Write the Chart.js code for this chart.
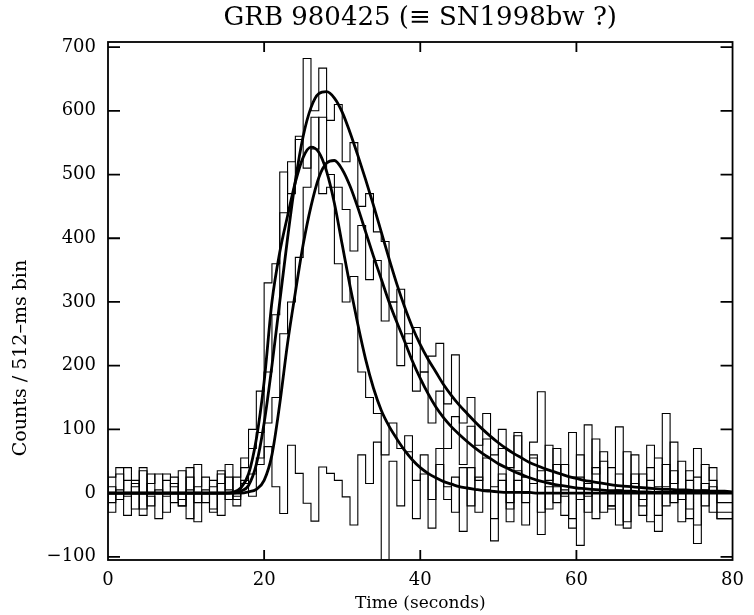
<!DOCTYPE html>
<html><head><meta charset="utf-8">
<script src="https://cdn.jsdelivr.net/npm/chart.js@4/dist/chart.umd.min.js"></script>
<style>html,body{margin:0;padding:0;background:#fff}#wrap{width:754px;height:615px;position:relative}</style>
</head><body><div id="wrap"><canvas id="c"></canvas></div>
<script>
const chartTitle = 'GRB 980425 (\u2261 SN1998bw ?)';
const xAxisTitle = 'Time (seconds)';
const yAxisTitle = 'Counts / 512\u2013ms bin';
const xTickValues = [0, 20, 40, 60, 80];
const yTickValues = [-100, 0, 100, 200, 300, 400, 500, 600, 700];
// bin edges in seconds (0 .. 80)
const binEdges = Array.from({length: 81}, (_, i) => i);

// observed counts per bin (4 light curves)
const countsA = [35,10,-10,40,20,-25,15,30,-5,25,-20,5,45,-15,10,30,-10,
  25,55,100,160,330,360,504,470,560,510,590,470,480,360,300,340,190,150,125,60,110,70,90,
  20,60,-10,45,10,-30,40,-20,25,5,-40,30,-15,20,-50,15,35,-25,10,-5,-55,25,-30,40,0,-20,30,-45,15,-10,20,-35,45,-15,5,-40,25,-20,10,-30];
const countsB = [-20,25,40,-5,15,-35,30,0,20,-15,35,-40,10,25,-30,15,45,-10,
  40,70,95,190,280,440,520,555,682,600,667,585,610,520,550,450,470,410,395,300,320,235,260,190,215,235,140,217,110,150,75,125,60,100,40,95,25,80,159,20,70,5,95,-10,107,30,65,-20,104,0,60,-35,75,10,125,15,50,-25,70,5,40,-15];
const countsC = [10,-30,5,20,-25,35,-5,-40,30,10,-20,40,-15,5,20,-35,25,-5,15,
  30,55,110,150,250,300,370,480,540,590,500,480,445,380,420,335,365,270,300,200,250,160,190,110,160,70,120,45,105,20,85,10,70,-25,90,0,55,-30,75,-15,45,-40,60,-5,85,-30,40,-50,65,0,30,-45,55,-20,80,-10,35,-50,45,20,-40];
const countsD = [20,-15,30,-35,10,40,-20,5,-30,15,-10,25,-45,0,-25,35,5,-20,20,-5,
  45,73,10,-32,75,31,-16,-44,41,31,20,-6,-50,60,15,80,-105,50,-20,65,-40,30,-55,70,-10,25,-60,40,-30,55,-75,20,-45,35,-15,60,-65,10,45,-35,25,-82,15,-40,50,-25,5,-55,30,-20,40,-60,10,35,-45,20,-79,15,-30,-40];

// fitted pulse profiles, sampled at the bin edges
const fitA = [0,0,0,0,0,0,0,0,0,0,0,0,0,0,0,0,
  1,8,30,85,175,300,378,435,488,527,543,535,505,455,390,325,265,210,165,130,105,85,67,52,40,31,24,18,14,10,8,6,4,3,2,1,1,1,1,
  0,0,0,0,0,0,0,0,0,0,0,0,0,0,0,0,0,0,0,0,0,0,0,0,0,0];
const fitB = [0,0,0,0,0,0,0,0,0,0,0,0,0,0,0,0,0,
  3,12,45,110,200,300,400,490,560,605,627,630,620,598,566,530,492,452,410,368,328,292,260,233,210,190,170,153,138,125,112,100,89,79,70,62,55,48,43,38,34,30,26,23,20,18,16,14,12,11,10,9,8,7,6,6,5,5,4,4,3,3,3,2];
const fitC = [0,0,0,0,0,0,0,0,0,0,0,0,0,0,0,0,0,0,
  2,6,20,60,140,235,315,390,450,495,518,522,508,482,448,410,372,336,300,268,238,207,180,156,135,118,104,92,81,71,62,54,46,40,34,29,24,20,17,14,12,10,8,7,6,5,4,4,3,3,2,2,
  1,1,1,1,1,1,1,1,1,1,1];

const histo = vals => binEdges.map((x, i) => ({x, y: vals[Math.min(i, vals.length - 1)]}));
const curve = vals => binEdges.map((x, i) => ({x, y: vals[i]}));

const serif = 'DejaVu Serif';

const frameTicks = {
  id: 'frameTicks',
  afterDatasetsDraw(chart) {
    const {ctx, chartArea: a, scales: {x, y}} = chart;
    ctx.save();
    ctx.strokeStyle = '#000';
    ctx.lineWidth = 1.8;
    ctx.strokeRect(a.left, a.top, a.right - a.left, a.bottom - a.top);
    ctx.beginPath();
    x.ticks.forEach(t => {
      const px = x.getPixelForValue(t.value);
      if (px <= a.left + 1 || px >= a.right - 1) return;
      ctx.moveTo(px, a.bottom); ctx.lineTo(px, a.bottom - 10);
      ctx.moveTo(px, a.top); ctx.lineTo(px, a.top + 10);
    });
    y.ticks.forEach(t => {
      const py = y.getPixelForValue(t.value);
      ctx.moveTo(a.left, py); ctx.lineTo(a.left + 12, py);
      ctx.moveTo(a.right, py); ctx.lineTo(a.right - 12, py);
    });
    ctx.stroke();
    // y-axis title, placed as in the reference (lower than the axis centre)
    ctx.translate(21, 358);
    ctx.rotate(-Math.PI / 2);
    ctx.fillStyle = '#000';
    ctx.font = '19px "' + serif + '"';
    ctx.textAlign = 'center';
    ctx.textBaseline = 'middle';
    ctx.fillText(yAxisTitle, 0, 0);
    ctx.restore();
  }
};

const histStyle = {borderColor: '#000', borderWidth: 1.1, pointRadius: 0, stepped: 'after', fill: false};
const fitStyle = {borderColor: '#000', borderWidth: 2.8, pointRadius: 0, cubicInterpolationMode: 'monotone', fill: false};
const signed = v => (v < 0 ? '\u2212' + Math.abs(v) : String(v));

new Chart(document.getElementById('c'), {
  type: 'line',
  data: {
    datasets: [
      {label: 'fit A', data: curve(fitA), ...fitStyle},
      {label: 'fit B', data: curve(fitB), ...fitStyle},
      {label: 'fit C', data: curve(fitC), ...fitStyle},
      {label: 'counts A', data: histo(countsA), ...histStyle},
      {label: 'counts B', data: histo(countsB), ...histStyle},
      {label: 'counts C', data: histo(countsC), ...histStyle},
      {label: 'counts D', data: histo(countsD), ...histStyle}
    ]
  },
  options: {
    responsive: true,
    maintainAspectRatio: false,
    animation: false,
    devicePixelRatio: 1,
    layout: {padding: {left: 0, right: 14, top: 0, bottom: 0}},
    plugins: {
      legend: {display: false},
      tooltip: {enabled: false},
      title: {
        display: true, text: chartTitle, color: '#000', fullSize: false,
        font: {family: serif, size: 26, weight: 'normal', lineHeight: 1.2},
        padding: {top: 3, bottom: 7.8}
      }
    },
    scales: {
      x: {
        type: 'linear', min: 0, max: 80,
        afterBuildTicks: s => { s.ticks = xTickValues.map(v => ({value: v})); },
        afterFit: s => { s.height = 55; },
        grid: {display: false, drawTicks: false},
        border: {display: false},
        ticks: {color: '#000', padding: 10, maxRotation: 0, font: {family: serif, size: 18}},
        title: {display: true, text: xAxisTitle, color: '#000', font: {family: serif, size: 17, lineHeight: 1.2}, padding: {top: 0, bottom: 1}}
      },
      y: {
        type: 'linear', min: -105, max: 708,
        afterBuildTicks: s => { s.ticks = yTickValues.map(v => ({value: v})); },
        afterFit: s => { s.width = 108; },
        grid: {display: false, drawTicks: false},
        border: {display: false},
        ticks: {color: '#000', padding: 12, font: {family: serif, size: 18}, callback: signed},
        title: {display: false}
      }
    }
  },
  plugins: [frameTicks]
});
</script>
</body></html>
